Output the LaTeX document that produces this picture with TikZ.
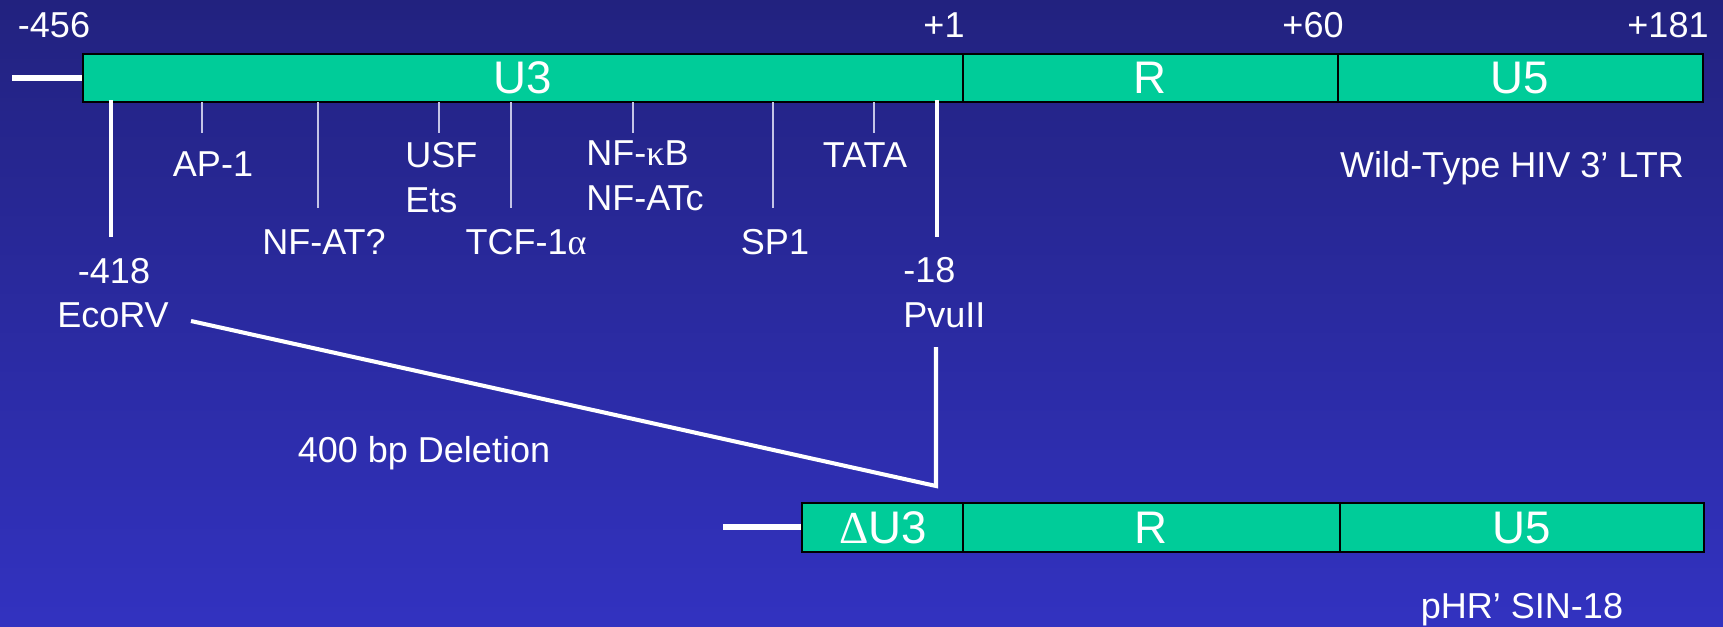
\documentclass[tikz,border=0pt]{standalone}
\usepackage{fontspec}
\setmainfont{Liberation Sans}
\newfontfamily\greekfont{Liberation Serif}
\definecolor{ltrgreen}{HTML}{00CC99}
\definecolor{bgtop}{HTML}{22227F}
\definecolor{bgbottom}{HTML}{3232C0}
\definecolor{ticklines}{HTML}{C4C4E6}
\begin{document}
\begin{tikzpicture}[x = {(0.02cm,0cm)},
  y = {(0cm,-0.02cm)},
  segment/.style={fill=ltrgreen, draw=black, line width=1.2pt},
  seglabel/.style={text=white, inner sep=0pt, font=\fontsize{26}{30}\selectfont},
  lbl/.style={text=white, inner sep=0pt, font=\fontsize{20.5}{24}\selectfont},
  tick/.style={draw=ticklines, line width=0.9pt},
  site/.style={draw=white, line width=2.3pt},
  stub/.style={draw=white, line width=3.8pt}]

  % background
  \shade[top color=bgtop, bottom color=bgbottom] (0,0) rectangle (1723,626);
  \useasboundingbox (0,0) rectangle (1723,626);

  % wild-type LTR
  \def\ytop{54}
  \def\ybot{102}
  \draw[stub] (12,78) -- (83,78);
  \draw[segment] (83,\ytop) rectangle (963,\ybot);
  \draw[segment] (963,\ytop) rectangle (1338,\ybot);
  \draw[segment] (1338,\ytop) rectangle (1703,\ybot);
  \node[seglabel] (u3) at (523,78) {U3};
  \node[seglabel] (r) at (1150,78) {R};
  \node[seglabel] (u5) at (1520,78) {U5};

  % positions
  \node[lbl, anchor=base] (p456) at (54,37) {-456};
  \node[lbl, anchor=base] (p1) at (944,37) {+1};
  \node[lbl, anchor=base] (p60) at (1313,37) {+60};
  \node[lbl, anchor=base] (p181) at (1668,37) {+181};

  % binding sites
  \foreach \x/\yend in {202/133, 318/208, 439/133, 511/208, 633/133, 773/208, 874/133}
  \draw[tick] (\x,\ybot) -- (\x,\yend);

  \node[lbl, anchor=base] (ap1) at (213,176) {AP-1};
  \node[lbl, anchor=base] (nfat) at (324,254) {NF-AT?};
  \node[lbl, anchor=base west] (usf) at (405,167) {USF};
  \node[lbl, anchor=base west] (ets) at (405,212) {Ets};
  \node[lbl, anchor=base] (tcf) at (526,254) {TCF-1{\greekfont α}};
  \node[lbl, anchor=base west] (nfkb) at (586,165) {NF-{\greekfont κ}B};
  \node[lbl, anchor=base west] (nfatc) at (586,210) {NF-ATc};
  \node[lbl, anchor=base] (sp1) at (775,254) {SP1};
  \node[lbl, anchor=base] (tata) at (865,167) {TATA};
  \node[lbl, anchor=base] (wt) at (1512,177) {Wild-Type HIV 3’ LTR};

  % restriction sites
  \draw[site] (111,100) -- (111,237);
  \draw[site] (937,100) -- (937,237);
  \node[lbl, anchor=base] (p418) at (114,283) {-418};
  \node[lbl, anchor=base] (ecorv) at (113,327) {EcoRV};
  \node[lbl, anchor=base west] (p18) at (903,282) {-18};
  \node[lbl, anchor=base west] (pvuii) at (903,327) {PvuII};

  % deletion
  \coordinate (delstart) at (191,321);
  \coordinate (pvutop) at (936,347);
  \coordinate (delend) at (936,486);
  \draw[site] (delstart) -- (delend) -- (pvutop);
  \node[lbl, anchor=base] (del) at (424,462) {400 bp Deletion};

  % SIN LTR
  \draw[stub] (723,527) -- (802,527);
  \draw[segment] (802,503) rectangle (963,552);
  \draw[segment] (963,503) rectangle (1340,552);
  \draw[segment] (1340,503) rectangle (1704,552);
  \node[seglabel] (du3) at (883,528) {{\greekfont Δ}U3};
  \node[seglabel] (r2) at (1151,528) {R};
  \node[seglabel] (u52) at (1522,528) {U5};
  \node[lbl, anchor=base] (sin) at (1522,618) {pHR’ SIN-18};

\end{tikzpicture}
\end{document}
